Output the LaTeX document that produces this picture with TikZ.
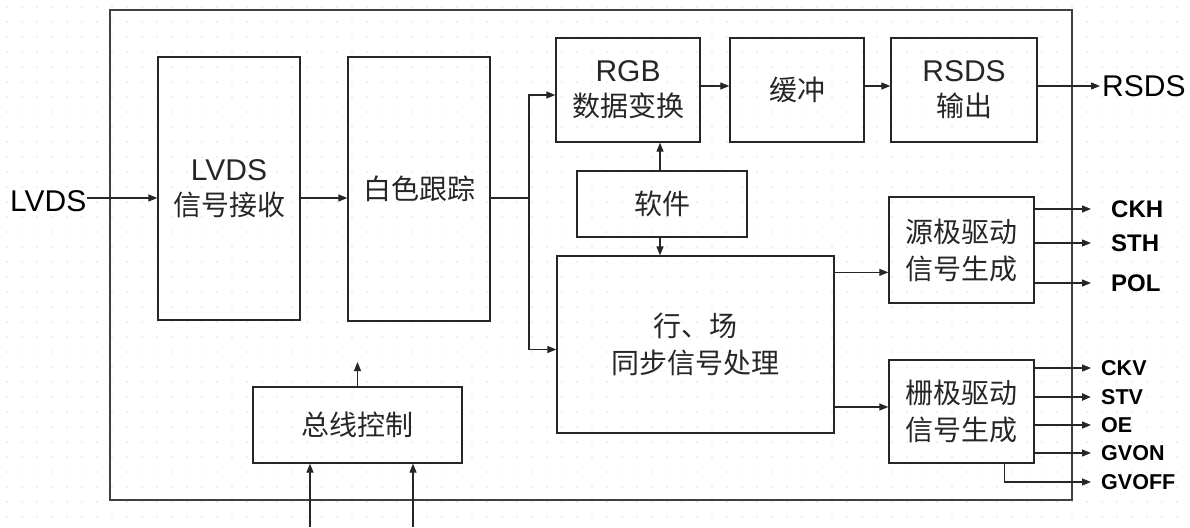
\documentclass[tikz,border=0pt]{standalone}
\usepackage{fontspec}
\setmainfont{Liberation Sans}
\newfontfamily\cjk{Noto Sans CJK SC}
\usetikzlibrary{arrows.meta}
\begin{document}
\begin{tikzpicture}[x=1pt,y=-1pt,
  box/.style={draw=black!85,line width=1.3pt,inner sep=0pt,align=center,text=black!85},
  cn/.style={font=\cjk\fontsize{28}{37}\selectfont},
  arr/.style={draw=black!85,line width=1.2pt,-{Triangle[length=9pt,width=7pt]}},
  lab/.style={font=\fontsize{30}{34}\selectfont,inner sep=0pt},
  blab/.style={font=\bfseries\fontsize{24}{26}\selectfont,inner sep=0pt,anchor=west},
  slab/.style={font=\bfseries\fontsize{21.5}{22}\selectfont,inner sep=0pt,anchor=west}]
\useasboundingbox (0,0) rectangle (1190,527);
% dotted background grid
\foreach \x in {7,22,...,1190}{
  \foreach \y in {7,22,...,527}{
    \fill[gray!50] (\x,\y) circle (0.7pt);
  }
}
% outer frame
\draw[draw=black!75,line width=2.2pt] (110,10) rectangle (1072,500);
% boxes
\node[box,cn,minimum width=142pt,minimum height=263pt] (lvds) at (229,188.5)
  {\fontsize{30}{36}\selectfont\rmfamily LVDS\\[-2pt]信号接收};
\node[box,cn,minimum width=142pt,minimum height=264pt] (white) at (419,189) {白色跟踪};
\node[box,cn,minimum width=144pt,minimum height=104pt] (rgb) at (628,90)
  {\fontsize{30}{36}\selectfont\rmfamily RGB\\[-2pt]数据变换};
\node[box,cn,minimum width=134pt,minimum height=104pt] (buf) at (797,90) {缓冲};
\node[box,cn,minimum width=146pt,minimum height=104pt] (rsdsout) at (964,90)
  {\fontsize{30}{36}\selectfont\rmfamily RSDS\\[-2pt]输出};
\node[box,cn,minimum width=170pt,minimum height=66pt] (soft) at (662,204) {软件};
\node[box,cn,minimum width=277pt,minimum height=177pt] (hc) at (695.5,344.5) {行、场\\同步信号处理};
\node[box,cn,minimum width=145pt,minimum height=106pt] (src) at (961.5,250) {源极驱动\\信号生成};
\node[box,cn,minimum width=145pt,minimum height=103pt] (gate) at (961.5,411.5) {栅极驱动\\信号生成};
\node[box,cn,minimum width=209pt,minimum height=76pt] (bus) at (357.5,425) {总线控制};
% external labels
\node[lab,anchor=west] (lvdsin) at (10,201) {LVDS};
\node[lab,anchor=west] (rsds) at (1102,86) {RSDS};
\node[blab] (ckh) at (1111,209) {CKH};
\node[blab] (sth) at (1111,243) {STH};
\node[blab] (pol) at (1111,283) {POL};
\node[slab] (ckv) at (1101,368) {CKV};
\node[slab] (stv) at (1101,397) {STV};
\node[slab] (oe) at (1101,425) {OE};
\node[slab] (gvon) at (1101,453) {GVON};
\node[slab] (gvoff) at (1101,482) {GVOFF};
\coordinate (busup) at (357.5,362);
\coordinate (busin1) at (310,527);
\coordinate (busin2) at (413,527);
\coordinate (split) at (529,198);
% connectors
\draw[arr] ([yshift=3pt]lvdsin.east) -- ++(4pt,0) -- (lvds.west |- split);
\draw[arr] (lvds.east |- split) -- (white.west |- split);
\draw[draw=black!85,line width=1.2pt] (white.east |- split) -- (split);
\draw[arr] (split) |- ([yshift=-5pt]rgb.west);
\draw[arr] (split) |- ([yshift=-5pt]hc.west);
\draw[arr] ([yshift=4pt]rgb.east) -- ([yshift=4pt]buf.west);
\draw[arr] ([yshift=4pt]buf.east) -- ([yshift=4pt]rsdsout.west);
\draw[arr] ([yshift=4pt]rsdsout.east) -- ([xshift=-2pt]rsds.west);
\draw[arr] ([xshift=-2pt]soft.north) -- ([xshift=-2pt]soft.north |- rgb.south);
\draw[arr] ([xshift=-2pt]soft.south) -- ([xshift=-2pt]soft.south |- hc.north);
\draw[arr] ([yshift=-17pt]hc.north east) -- ([yshift=-17pt]hc.north east -| src.west);
\draw[arr] ([yshift=-62.5pt]hc.east) -- ([yshift=-62.5pt]hc.east -| gate.west);
\draw[arr] (bus.north) -- (busup);
\draw[arr] (busin1) -- (busin1 |- bus.south);
\draw[arr] (busin2) -- (busin2 |- bus.south);
\draw[arr] (src.east |- ckh) -- ([xshift=-20pt]ckh.west);
\draw[arr] (src.east |- sth) -- ([xshift=-20pt]sth.west);
\draw[arr] (src.east |- pol) -- ([xshift=-20pt]pol.west);
\draw[arr] (gate.east |- ckv) -- ([xshift=-10pt]ckv.west);
\draw[arr,line width=2.6pt] (gate.east |- stv) -- ([xshift=-10pt]stv.west);
\draw[arr] (gate.east |- oe) -- ([xshift=-10pt]oe.west);
\draw[arr] (gate.east |- gvon) -- ([xshift=-10pt]gvon.west);
\draw[arr] ([xshift=-30pt]gate.south east) |- ([xshift=-10pt]gvoff.west);
\end{tikzpicture}
\end{document}
